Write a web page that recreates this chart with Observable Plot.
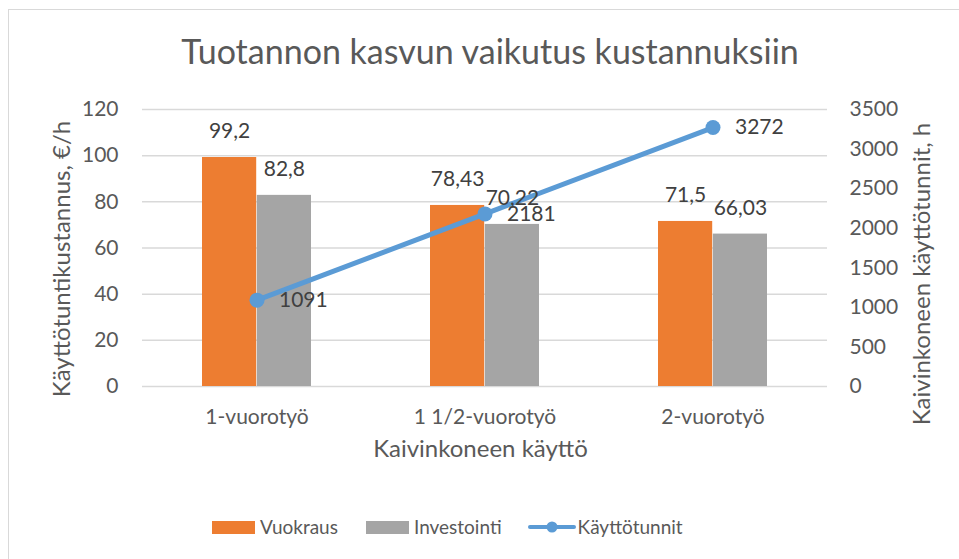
<!DOCTYPE html>
<html><head><meta charset="utf-8">
<script src="https://cdn.jsdelivr.net/npm/d3@7"></script>
<script src="https://cdn.jsdelivr.net/npm/@observablehq/plot@0.6"></script>
<style>
body{margin:0;background:#fff;}
#wrap{position:relative;width:959px;height:559px;overflow:hidden;font-family:Lato,"Open Sans",sans-serif;color:#595959;background:#fff;}
#frame{position:absolute;left:8px;top:9px;width:1000px;height:600px;border-left:1px solid #d9d9d9;border-top:1px solid #d9d9d9;box-sizing:border-box;}
#title{position:absolute;top:31px;left:0;width:980px;text-align:center;font-size:34px;line-height:40px;color:#595959;white-space:nowrap;}
#chart{position:absolute;left:0;top:0;}
#legend{position:absolute;top:515px;left:212px;display:flex;align-items:center;font-size:19px;line-height:24px;color:#595959;white-space:nowrap;}
#legend .item{display:flex;align-items:center;}
#legend .sw{width:43px;height:13px;margin-right:5px;}
</style>
</head><body>
<div id="wrap">
  <div id="frame"></div>
  <div id="chart"></div>
  <div id="title">Tuotannon kasvun vaikutus kustannuksiin</div>
  <div id="legend"></div>
</div>
<script>
const categories = ["1-vuorotyö", "1 1/2-vuorotyö", "2-vuorotyö"];
const vuokraus = [99.2, 78.43, 71.5];
const investointi = [82.8, 70.22, 66.03];
const kayttotunnit = [1091, 2181, 3272];
const leftTicks = [0, 20, 40, 60, 80, 100, 120];
const rightTicks = [0, 500, 1000, 1500, 2000, 2500, 3000, 3500];
const seriesNames = ["Vuokraus", "Investointi", "Käyttötunnit"];
const colors = ["#ED7D31", "#A5A5A5", "#5B9BD5"];

const yMax = 120, hMax = 3500;
const k = yMax / hMax;
const fmt = v => String(v).replace(".", ",");

const vRows = categories.map((c, i) => ({cat: c, value: vuokraus[i]}));
const iRows = categories.map((c, i) => ({cat: c, value: investointi[i]}));
const hRows = categories.map((c, i) => ({cat: c, h: kayttotunnit[i]}));

const half = 54.8;
const labelColor = "#404040";
const font = "Lato, 'Open Sans', sans-serif";

const chart = Plot.plot({
  width: 959, height: 480,
  marginTop: 109, marginBottom: 94, marginLeft: 142, marginRight: 132,
  x: {domain: categories, paddingInner: 0.52, paddingOuter: 0.26, axis: null},
  y: {domain: [0, yMax], axis: null},
  style: {fontFamily: font, fontSize: "21px", color: "#595959", background: "transparent"},
  marks: [
    Plot.gridY(leftTicks, {stroke: "#d9d9d9", strokeOpacity: 1, strokeWidth: 1.5}),
    Plot.barY(vRows, {x: "cat", y: "value", fill: colors[0], insetRight: half, insetLeft: 0}),
    Plot.barY(iRows, {x: "cat", y: "value", fill: colors[1], insetLeft: half, insetRight: 0}),
    Plot.axisY(leftTicks, {anchor: "left", tickSize: 0, tickPadding: 24, label: null, fill: "#595959", fontSize: 21}),
    Plot.axisY(rightTicks.map(v => v * k), {anchor: "right", tickSize: 0, tickPadding: 22, label: null,
      tickFormat: d => String(Math.round(d / k)), fill: "#595959", fontSize: 21}),
    Plot.axisX({anchor: "bottom", tickSize: 0, tickPadding: 23, label: null, fill: "#595959", fontSize: 21}),
    Plot.text(["Kaivinkoneen käyttö"], {frameAnchor: "bottom", textAnchor: "middle", lineAnchor: "middle", dy: 63, dx: -4.5, fontSize: 24, fill: "#595959"}),
    Plot.text(["Käyttötuntikustannus, €/h"], {frameAnchor: "left", textAnchor: "middle", lineAnchor: "middle", rotate: -90, dx: -80, dy: 11, fontSize: 24, fill: "#595959"}),
    Plot.text(["Kaivinkoneen käyttötunnit, h"], {frameAnchor: "right", textAnchor: "middle", lineAnchor: "middle", rotate: -90, dx: 95, dy: 26, fontSize: 24, fill: "#595959"}),
    Plot.line(hRows, {x: "cat", y: d => d.h * k, stroke: colors[2], strokeWidth: 5}),
    Plot.dot(hRows, {x: "cat", y: d => d.h * k, r: 7.5, fill: colors[2], stroke: null}),
    Plot.text(vRows, {x: "cat", y: "value", text: d => fmt(d.value), dx: -27.4, dy: -26, fontSize: 21, fill: labelColor}),
    Plot.text(iRows, {x: "cat", y: "value", text: d => fmt(d.value), dx: 27.4, dy: -26, fontSize: 21, fill: labelColor}),
    Plot.text(hRows, {x: "cat", y: d => d.h * k, text: d => String(d.h), textAnchor: "start", dx: 22, fontSize: 21, fill: labelColor})
  ]
});
document.getElementById("chart").appendChild(chart);

const legend = document.getElementById("legend");
const gaps = [28, 26, 0];
seriesNames.forEach((name, i) => {
  const item = document.createElement("div");
  item.className = "item";
  item.style.marginRight = gaps[i] + "px";
  if (i < 2) {
    item.innerHTML = `<div class="sw" style="background:${colors[i]}"></div><span>${name}</span>`;
  } else {
    item.innerHTML = `<svg width="48" height="14" style="margin-right:2px"><line x1="2" y1="7" x2="46" y2="7" stroke="${colors[i]}" stroke-width="4" stroke-linecap="round"/><circle cx="24" cy="7" r="5.5" fill="${colors[i]}"/></svg><span>${name}</span>`;
  }
  legend.appendChild(item);
});
</script>
</body></html>
